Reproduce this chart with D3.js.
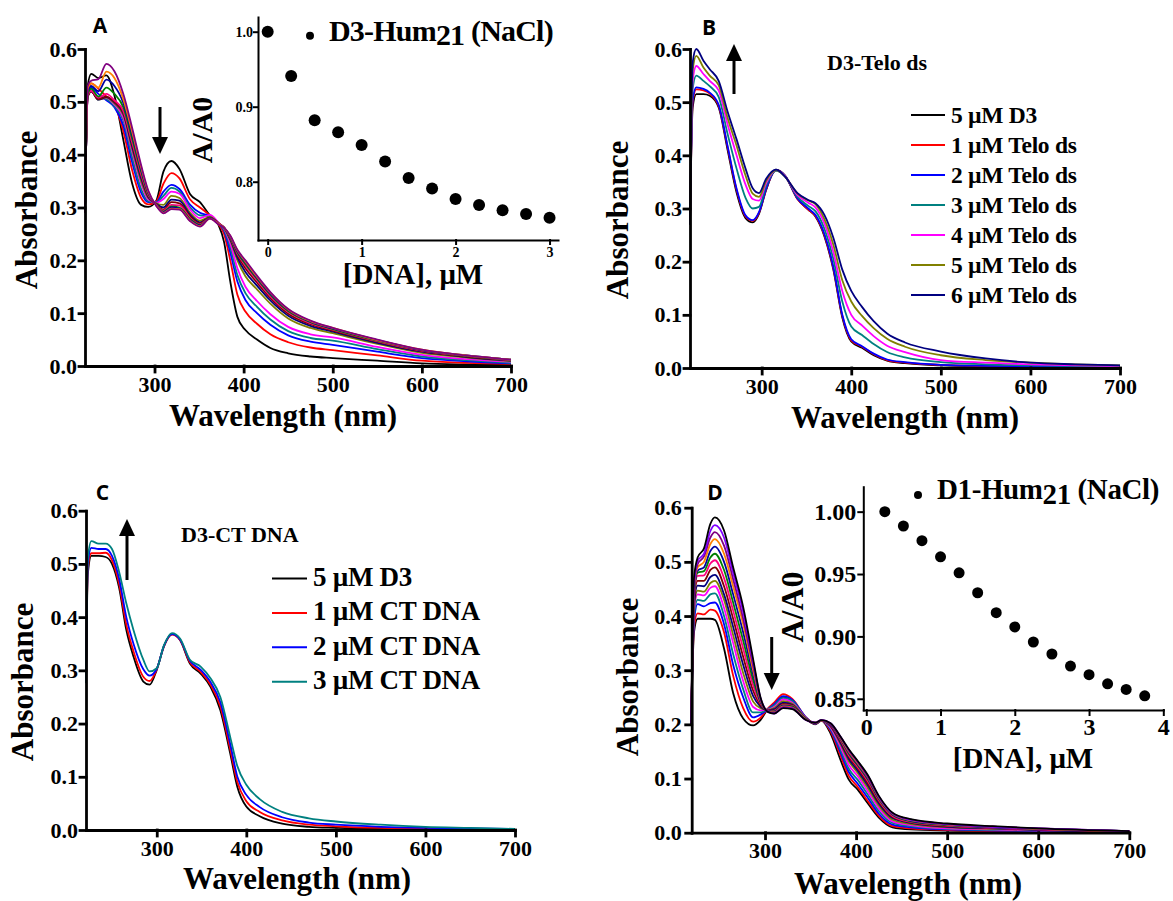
<!DOCTYPE html>
<html>
<head>
<meta charset="utf-8">
<script src="https://cdnjs.cloudflare.com/ajax/libs/d3/7.8.5/d3.min.js"></script>
<style>
    body { margin: 0; background: #fff; }
    svg text { font-family: "Liberation Serif", "Times New Roman", serif; font-weight: bold; fill: #000; }
    .axis path, .axis line { stroke: #000; stroke-width: 2.8px; stroke-linecap: square; }
    .axis text { font-family: "Liberation Serif", "Times New Roman", serif; font-weight: bold; font-size: 22px; }
    .inset path, .inset line { stroke: #000; stroke-width: 2px; stroke-linecap: square; }
    .inset text { font-family: "Liberation Serif", "Times New Roman", serif; font-weight: bold; }
    .letter { font-family: "Open Sans", "Liberation Sans", sans-serif !important; font-size: 21px; }
</style>
</head>
<body>
<div id="chart"></div>
<script>

// ---------- shared axis ticks ----------
var absTicks = [0, 0.1, 0.2, 0.3, 0.4, 0.5, 0.6];
var waveTicks = [300, 400, 500, 600, 700];

// ---------- Panel A: D3 + Hum21 (NaCl) ----------
var waveA = [222, 225, 229, 237, 246, 255, 265, 275, 285, 293, 302, 310, 319, 328, 340, 351, 362, 372, 378, 385, 393, 402, 415, 430, 450, 475, 500, 550, 600, 650, 700];
var absA = [
    [0.29, 0.53, 0.553, 0.545, 0.55, 0.512, 0.428, 0.345, 0.305, 0.301, 0.313, 0.368, 0.388, 0.373, 0.325, 0.31, 0.285, 0.266, 0.235, 0.16, 0.093, 0.068, 0.05, 0.034, 0.024, 0.018, 0.015, 0.01, 0.005, 0.003, 0.002],
    [0.29, 0.52, 0.535, 0.525, 0.51, 0.495, 0.445, 0.37, 0.318, 0.306, 0.311, 0.345, 0.365, 0.355, 0.315, 0.3, 0.285, 0.268, 0.25, 0.2, 0.135, 0.103, 0.08, 0.06, 0.045, 0.035, 0.03, 0.02, 0.01, 0.006, 0.004],
    [0.29, 0.515, 0.527, 0.515, 0.503, 0.49, 0.455, 0.385, 0.328, 0.31, 0.31, 0.33, 0.343, 0.335, 0.305, 0.29, 0.284, 0.27, 0.256, 0.215, 0.16, 0.125, 0.1, 0.078, 0.058, 0.046, 0.04, 0.027, 0.015, 0.009, 0.005],
    [0.29, 0.512, 0.522, 0.508, 0.505, 0.492, 0.465, 0.395, 0.335, 0.312, 0.309, 0.322, 0.337, 0.33, 0.3, 0.285, 0.283, 0.27, 0.258, 0.225, 0.172, 0.138, 0.112, 0.088, 0.066, 0.053, 0.048, 0.032, 0.018, 0.011, 0.006],
    [0.29, 0.51, 0.52, 0.505, 0.507, 0.495, 0.47, 0.405, 0.345, 0.315, 0.309, 0.316, 0.33, 0.326, 0.296, 0.28, 0.286, 0.271, 0.26, 0.232, 0.185, 0.15, 0.123, 0.098, 0.074, 0.06, 0.054, 0.036, 0.021, 0.013, 0.008],
    [0.29, 0.51, 0.52, 0.504, 0.508, 0.497, 0.475, 0.41, 0.35, 0.318, 0.308, 0.305, 0.322, 0.318, 0.29, 0.275, 0.282, 0.27, 0.261, 0.238, 0.2, 0.17, 0.145, 0.118, 0.09, 0.072, 0.062, 0.042, 0.025, 0.016, 0.009],
    [0.29, 0.51, 0.52, 0.504, 0.509, 0.499, 0.478, 0.415, 0.355, 0.32, 0.307, 0.3, 0.315, 0.313, 0.286, 0.272, 0.281, 0.27, 0.262, 0.24, 0.205, 0.178, 0.152, 0.124, 0.095, 0.076, 0.065, 0.044, 0.027, 0.017, 0.01],
    [0.29, 0.51, 0.52, 0.505, 0.51, 0.5, 0.48, 0.42, 0.36, 0.322, 0.306, 0.296, 0.31, 0.308, 0.283, 0.27, 0.281, 0.27, 0.262, 0.242, 0.21, 0.185, 0.158, 0.129, 0.099, 0.079, 0.067, 0.046, 0.028, 0.018, 0.011],
    [0.29, 0.512, 0.521, 0.508, 0.515, 0.503, 0.483, 0.423, 0.363, 0.324, 0.305, 0.294, 0.305, 0.304, 0.28, 0.268, 0.28, 0.27, 0.262, 0.243, 0.213, 0.19, 0.162, 0.132, 0.102, 0.081, 0.069, 0.047, 0.029, 0.019, 0.011],
    [0.29, 0.515, 0.525, 0.51, 0.527, 0.515, 0.49, 0.43, 0.368, 0.326, 0.305, 0.292, 0.302, 0.3, 0.278, 0.267, 0.28, 0.269, 0.262, 0.244, 0.215, 0.193, 0.165, 0.135, 0.104, 0.083, 0.07, 0.048, 0.03, 0.019, 0.012],
    [0.29, 0.52, 0.53, 0.52, 0.542, 0.53, 0.498, 0.437, 0.372, 0.328, 0.304, 0.291, 0.3, 0.298, 0.276, 0.266, 0.28, 0.269, 0.262, 0.245, 0.217, 0.196, 0.167, 0.137, 0.106, 0.084, 0.071, 0.049, 0.03, 0.02, 0.012],
    [0.29, 0.525, 0.535, 0.527, 0.557, 0.545, 0.505, 0.443, 0.376, 0.33, 0.304, 0.29, 0.298, 0.297, 0.275, 0.265, 0.279, 0.269, 0.262, 0.246, 0.219, 0.198, 0.169, 0.139, 0.107, 0.085, 0.072, 0.049, 0.031, 0.02, 0.012],
    [0.29, 0.53, 0.54, 0.543, 0.572, 0.558, 0.515, 0.45, 0.38, 0.332, 0.303, 0.289, 0.297, 0.296, 0.274, 0.264, 0.279, 0.268, 0.262, 0.247, 0.22, 0.2, 0.171, 0.14, 0.108, 0.086, 0.072, 0.05, 0.031, 0.02, 0.012]
];
var colorsA = ["#000000", "#ff0000", "#0000ff", "#008080", "#ff00ff", "#808000", "#000080", "#800000", "#ff0080", "#008000", "#0000a0", "#ff8000", "#800080"];

// inset A: relative absorbance vs DNA
var concA = [0, 0.25, 0.5, 0.75, 1, 1.25, 1.5, 1.75, 2, 2.25, 2.5, 2.75, 3];
var ratioA = [1.0, 0.941, 0.882, 0.866, 0.849, 0.827, 0.805, 0.791, 0.777, 0.769, 0.762, 0.757, 0.752];

// ---------- Panel B: D3 + Telo ds ----------
var waveB = [220, 223, 227, 235, 242, 252, 262, 272, 282, 290, 297, 305, 316, 326, 340, 352, 360, 370, 380, 390, 400, 412, 425, 440, 460, 500, 550, 600, 650, 700];
var absB = [
    [0.27, 0.49, 0.515, 0.515, 0.512, 0.49, 0.41, 0.33, 0.282, 0.274, 0.29, 0.335, 0.373, 0.362, 0.318, 0.298, 0.285, 0.248, 0.185, 0.095, 0.05, 0.038, 0.024, 0.014, 0.009, 0.005, 0.003, 0.002, 0.001, 0.001],
    [0.27, 0.5, 0.524, 0.522, 0.516, 0.493, 0.415, 0.335, 0.285, 0.277, 0.292, 0.336, 0.372, 0.362, 0.318, 0.298, 0.286, 0.25, 0.188, 0.098, 0.052, 0.04, 0.026, 0.015, 0.01, 0.006, 0.004, 0.003, 0.002, 0.002],
    [0.27, 0.505, 0.528, 0.525, 0.518, 0.495, 0.417, 0.337, 0.287, 0.278, 0.293, 0.337, 0.372, 0.362, 0.319, 0.3, 0.288, 0.252, 0.19, 0.1, 0.054, 0.041, 0.027, 0.016, 0.011, 0.006, 0.004, 0.003, 0.002, 0.002],
    [0.27, 0.525, 0.55, 0.54, 0.53, 0.51, 0.44, 0.375, 0.32, 0.3, 0.303, 0.343, 0.371, 0.361, 0.322, 0.305, 0.295, 0.262, 0.205, 0.125, 0.078, 0.062, 0.045, 0.03, 0.02, 0.011, 0.007, 0.005, 0.004, 0.003],
    [0.27, 0.54, 0.568, 0.553, 0.54, 0.522, 0.458, 0.4, 0.345, 0.318, 0.315, 0.348, 0.372, 0.361, 0.325, 0.311, 0.302, 0.272, 0.218, 0.145, 0.1, 0.08, 0.06, 0.042, 0.03, 0.015, 0.01, 0.007, 0.005, 0.004],
    [0.27, 0.56, 0.587, 0.565, 0.55, 0.532, 0.47, 0.418, 0.362, 0.328, 0.322, 0.352, 0.372, 0.36, 0.328, 0.315, 0.308, 0.28, 0.232, 0.165, 0.125, 0.098, 0.075, 0.055, 0.04, 0.024, 0.015, 0.01, 0.007, 0.005],
    [0.27, 0.575, 0.6, 0.578, 0.562, 0.54, 0.482, 0.43, 0.375, 0.338, 0.329, 0.356, 0.373, 0.36, 0.329, 0.316, 0.31, 0.288, 0.245, 0.185, 0.145, 0.115, 0.088, 0.065, 0.048, 0.031, 0.018, 0.01, 0.007, 0.005]
];
var colorsB = ["#000000", "#ff0000", "#0000ff", "#008080", "#ff00ff", "#808000", "#000080"];
var legendB = ["5 µM D3", "1 µM Telo ds", "2 µM Telo ds", "3 µM Telo ds", "4 µM Telo ds", "5 µM Telo ds", "6 µM Telo ds"];

// ---------- Panel C: D3 + CT DNA ----------
var waveC = [221, 223, 227, 235, 243, 250, 258, 266, 274, 285, 292, 300, 308, 317, 326, 337, 349, 360, 371, 382, 390, 400, 415, 440, 470, 500, 550, 600, 650, 700];
var absC = [
    [0.276, 0.48, 0.515, 0.515, 0.513, 0.5, 0.455, 0.376, 0.326, 0.279, 0.273, 0.301, 0.345, 0.368, 0.357, 0.313, 0.294, 0.269, 0.225, 0.144, 0.081, 0.044, 0.026, 0.012, 0.006, 0.004, 0.002, 0.001, 0.001, 0.001],
    [0.276, 0.49, 0.52, 0.52, 0.521, 0.507, 0.462, 0.386, 0.336, 0.288, 0.28, 0.302, 0.345, 0.367, 0.357, 0.315, 0.297, 0.273, 0.232, 0.152, 0.09, 0.054, 0.034, 0.018, 0.01, 0.007, 0.004, 0.003, 0.002, 0.001],
    [0.276, 0.5, 0.53, 0.528, 0.528, 0.515, 0.472, 0.4, 0.35, 0.302, 0.29, 0.303, 0.346, 0.368, 0.358, 0.318, 0.301, 0.278, 0.24, 0.162, 0.1, 0.066, 0.043, 0.024, 0.014, 0.01, 0.006, 0.004, 0.003, 0.002],
    [0.276, 0.51, 0.543, 0.538, 0.538, 0.528, 0.485, 0.426, 0.376, 0.32, 0.298, 0.304, 0.347, 0.37, 0.36, 0.32, 0.307, 0.285, 0.25, 0.175, 0.12, 0.085, 0.058, 0.034, 0.022, 0.016, 0.01, 0.006, 0.004, 0.002]
];
var colorsC = ["#000000", "#ff0000", "#0000ff", "#008080"];
var legendC = ["5 µM D3", "1 µM CT DNA", "2 µM CT DNA", "3 µM CT DNA"];

// ---------- Panel D: D1 + Hum21 (NaCl) ----------
var waveD = [219, 222, 226, 233, 240, 245, 255, 265, 276, 287, 295, 303, 310, 320, 330, 345, 355, 362, 372, 383, 392, 402, 413, 425, 440, 460, 500, 550, 600, 700];
var absD = [
    [0.2, 0.37, 0.395, 0.395, 0.395, 0.393, 0.34, 0.258, 0.211, 0.198, 0.208, 0.228, 0.238, 0.25, 0.243, 0.21, 0.2, 0.207, 0.183, 0.134, 0.098, 0.079, 0.054, 0.028, 0.01, 0.006, 0.004, 0.003, 0.002, 0.001],
    [0.2, 0.38, 0.405, 0.403, 0.412, 0.41, 0.37, 0.29, 0.23, 0.205, 0.212, 0.229, 0.24, 0.256, 0.247, 0.213, 0.201, 0.207, 0.187, 0.142, 0.105, 0.084, 0.058, 0.031, 0.012, 0.008, 0.005, 0.003, 0.002, 0.001],
    [0.2, 0.39, 0.422, 0.418, 0.424, 0.425, 0.385, 0.31, 0.25, 0.213, 0.218, 0.228, 0.237, 0.252, 0.245, 0.213, 0.201, 0.207, 0.19, 0.148, 0.112, 0.09, 0.064, 0.035, 0.015, 0.01, 0.006, 0.004, 0.003, 0.001],
    [0.2, 0.4, 0.43, 0.428, 0.44, 0.442, 0.4, 0.33, 0.265, 0.222, 0.222, 0.228, 0.235, 0.249, 0.243, 0.212, 0.202, 0.207, 0.192, 0.153, 0.118, 0.097, 0.07, 0.04, 0.018, 0.012, 0.007, 0.005, 0.004, 0.002],
    [0.2, 0.41, 0.44, 0.438, 0.452, 0.455, 0.415, 0.35, 0.28, 0.232, 0.226, 0.227, 0.232, 0.246, 0.24, 0.212, 0.202, 0.207, 0.194, 0.158, 0.125, 0.104, 0.076, 0.045, 0.021, 0.014, 0.008, 0.006, 0.004, 0.002],
    [0.2, 0.415, 0.447, 0.445, 0.461, 0.465, 0.43, 0.365, 0.295, 0.242, 0.23, 0.227, 0.23, 0.243, 0.238, 0.211, 0.202, 0.207, 0.196, 0.163, 0.132, 0.11, 0.082, 0.05, 0.024, 0.016, 0.01, 0.007, 0.005, 0.002],
    [0.2, 0.42, 0.456, 0.455, 0.472, 0.476, 0.44, 0.38, 0.31, 0.252, 0.233, 0.226, 0.228, 0.24, 0.236, 0.211, 0.202, 0.207, 0.197, 0.166, 0.136, 0.114, 0.087, 0.054, 0.027, 0.018, 0.011, 0.008, 0.005, 0.002],
    [0.2, 0.43, 0.465, 0.465, 0.485, 0.49, 0.455, 0.395, 0.325, 0.262, 0.236, 0.226, 0.226, 0.238, 0.235, 0.21, 0.202, 0.207, 0.198, 0.169, 0.14, 0.118, 0.091, 0.057, 0.029, 0.019, 0.012, 0.009, 0.006, 0.002],
    [0.2, 0.435, 0.474, 0.475, 0.497, 0.503, 0.47, 0.41, 0.34, 0.272, 0.239, 0.226, 0.225, 0.236, 0.234, 0.21, 0.202, 0.207, 0.199, 0.171, 0.143, 0.121, 0.095, 0.06, 0.031, 0.02, 0.013, 0.009, 0.006, 0.003],
    [0.2, 0.44, 0.48, 0.483, 0.508, 0.515, 0.485, 0.425, 0.355, 0.282, 0.241, 0.225, 0.224, 0.235, 0.233, 0.21, 0.202, 0.207, 0.2, 0.173, 0.146, 0.124, 0.098, 0.062, 0.033, 0.021, 0.014, 0.01, 0.007, 0.003],
    [0.2, 0.445, 0.484, 0.49, 0.52, 0.528, 0.5, 0.44, 0.37, 0.292, 0.243, 0.225, 0.223, 0.234, 0.232, 0.209, 0.203, 0.207, 0.2, 0.174, 0.148, 0.126, 0.1, 0.064, 0.034, 0.022, 0.015, 0.01, 0.007, 0.003],
    [0.2, 0.45, 0.49, 0.5, 0.533, 0.542, 0.515, 0.455, 0.385, 0.3, 0.245, 0.224, 0.222, 0.233, 0.231, 0.209, 0.203, 0.207, 0.201, 0.175, 0.15, 0.128, 0.102, 0.065, 0.035, 0.023, 0.015, 0.011, 0.007, 0.003],
    [0.2, 0.455, 0.496, 0.51, 0.545, 0.555, 0.53, 0.468, 0.395, 0.308, 0.247, 0.224, 0.221, 0.232, 0.23, 0.208, 0.203, 0.208, 0.201, 0.176, 0.152, 0.13, 0.103, 0.066, 0.036, 0.024, 0.016, 0.011, 0.008, 0.003],
    [0.2, 0.46, 0.502, 0.515, 0.557, 0.568, 0.545, 0.48, 0.408, 0.315, 0.249, 0.223, 0.22, 0.231, 0.229, 0.208, 0.203, 0.208, 0.202, 0.177, 0.153, 0.131, 0.105, 0.067, 0.036, 0.024, 0.016, 0.011, 0.008, 0.003],
    [0.2, 0.47, 0.508, 0.525, 0.57, 0.582, 0.558, 0.49, 0.417, 0.32, 0.25, 0.223, 0.22, 0.23, 0.228, 0.208, 0.203, 0.208, 0.202, 0.177, 0.154, 0.132, 0.106, 0.068, 0.037, 0.025, 0.017, 0.012, 0.008, 0.003]
];
var colorsD = ["#000000", "#ff0000", "#0000ff", "#008080", "#ff00ff", "#808000", "#000080", "#800000", "#ff0080", "#008000", "#0000a0", "#ff8000", "#800080", "#8000ff", "#000000"];

// inset D
var concD = [0.25, 0.5, 0.75, 1, 1.25, 1.5, 1.75, 2, 2.25, 2.5, 2.75, 3, 3.25, 3.5, 3.75];
var ratioD = [1.0, 0.9885, 0.9767, 0.9638, 0.951, 0.935, 0.919, 0.9076, 0.8955, 0.8859, 0.8762, 0.8693, 0.862, 0.8575, 0.8524];


/*
 * Spectrum - one absorbance panel
 */
Spectrum = function(_svg, _cfg, _wave, _data, _colors) {
    this.svg = _svg;
    this.cfg = _cfg;
    this.wave = _wave;
    this.data = _data;
    this.colors = _colors;

    this.initVis();
}

Spectrum.prototype.initVis = function() {
    var vis = this;
    var c = vis.cfg;

    vis.g = vis.svg.append("g");

    vis.x = d3.scaleLinear().domain([c.xStart, 700]).range([c.left, c.right]);
    vis.y = d3.scaleLinear().domain([0, 0.6]).range([c.bottom, c.top]);

    vis.line = d3.line()
        .x(function(d, i) { return vis.x(vis.wave[i]); })
        .y(function(d) { return vis.y(d); })
        .curve(d3.curveMonotoneX);

    vis.g.selectAll(".trace")
        .data(vis.data)
        .enter().append("path")
        .attr("class", "trace")
        .attr("d", vis.line)
        .attr("fill", "none")
        .attr("stroke", function(d, i) { return vis.colors[i]; })
        .attr("stroke-width", 1.8);

    // Axes
    var yAxis = d3.axisLeft(vis.y)
        .tickValues(absTicks)
        .tickFormat(d3.format(".1f"))
        .tickSize(6).tickSizeOuter(0).tickPadding(c.yPad);
    var xAxis = d3.axisBottom(vis.x)
        .tickValues(waveTicks)
        .tickFormat(d3.format("d"))
        .tickSize(6).tickSizeOuter(0).tickPadding(4);

    vis.g.append("g").attr("class", "axis")
        .attr("transform", "translate(" + c.left + ",0)")
        .call(yAxis);
    vis.g.append("g").attr("class", "axis")
        .attr("transform", "translate(0," + c.bottom + ")")
        .call(xAxis);

    // Titles
    vis.g.append("text")
        .attr("transform", "translate(" + c.yTitleX + "," + c.yTitleY + ") rotate(-90)")
        .attr("text-anchor", "middle")
        .style("font-size", "31px")
        .text("Absorbance");
    vis.g.append("text")
        .attr("x", c.xTitleX).attr("y", c.xTitleY)
        .attr("text-anchor", "middle")
        .style("font-size", "31px")
        .text("Wavelength (nm)");
    vis.g.append("text")
        .attr("class", "letter")
        .attr("x", c.letterX).attr("y", c.letterY)
        .attr("text-anchor", "middle")
        .text(c.letter);

    drawArrow(vis.g, c.arrow.x, c.arrow.tail, c.arrow.tip);

    if (c.note) {
        vis.g.append("text")
            .attr("x", c.note.x).attr("y", c.note.y)
            .style("font-size", c.note.size + "px")
            .text(c.note.text);
    }
    if (c.legend) vis.drawLegend();
}

Spectrum.prototype.drawLegend = function() {
    var vis = this;
    var L = vis.cfg.legend;

    var rows = vis.g.selectAll(".legend-row")
        .data(L.labels)
        .enter().append("g")
        .attr("class", "legend-row")
        .attr("transform", function(d, i) { return "translate(0," + (L.y0 + i * L.step) + ")"; });

    rows.append("line")
        .attr("x1", L.x1).attr("x2", L.x2)
        .attr("stroke", function(d, i) { return vis.colors[i]; })
        .attr("stroke-width", 2);
    rows.append("text")
        .attr("x", L.tx).attr("y", L.dy)
        .style("font-size", L.size + "px")
        .style("letter-spacing", "-0.3px")
        .text(function(d) { return d; });
}


/*
 * Titration - inset with A/A0 vs [DNA]
 */
Titration = function(_svg, _cfg, _conc, _ratio) {
    this.svg = _svg;
    this.cfg = _cfg;
    this.conc = _conc;
    this.ratio = _ratio;

    this.initVis();
}

Titration.prototype.initVis = function() {
    var vis = this;
    var c = vis.cfg;

    vis.g = vis.svg.append("g").attr("class", "inset");

    vis.x = d3.scaleLinear().domain(c.xDomain).range([c.left, c.right]);
    vis.y = d3.scaleLinear().domain(c.yDomain).range([c.bottom, c.top]);

    var yAxis = d3.axisLeft(vis.y).tickValues(c.yTicks).tickFormat(d3.format(c.yFormat))
        .tickSize(c.tickSize).tickSizeOuter(0).tickPadding(c.yPad);
    var xAxis = d3.axisBottom(vis.x).tickValues(c.xTicks).tickFormat(d3.format("d"))
        .tickSize(c.tickSize).tickSizeOuter(0).tickPadding(c.xPad);

    vis.g.append("g").attr("transform", "translate(" + c.left + ",0)").call(yAxis)
        .selectAll("text").style("font-size", c.tickFont + "px");
    vis.g.append("g").attr("transform", "translate(0," + c.bottom + ")").call(xAxis)
        .selectAll("text").style("font-size", c.tickFont + "px");

    vis.g.selectAll(".dot")
        .data(vis.conc)
        .enter().append("circle")
        .attr("class", "dot")
        .attr("cx", function(d) { return vis.x(d); })
        .attr("cy", function(d, i) { return vis.y(vis.ratio[i]); })
        .attr("r", c.r)
        .attr("fill", "#000");

    // legend symbol + title
    vis.g.append("circle").attr("cx", c.dotX).attr("cy", c.dotY).attr("r", c.dotR).attr("fill", "#000");
    var t = vis.g.append("text")
        .attr("x", c.titleX).attr("y", c.titleY)
        .style("font-size", c.titleSize + "px")
        .style("letter-spacing", c.titleSpacing + "px");
    t.append("tspan").text(c.title[0]);
    t.append("tspan").attr("dy", 4.5).text(c.title[1]);
    t.append("tspan").attr("dy", -4.5).text(c.title[2]);

    vis.g.append("text")
        .attr("transform", "translate(" + c.yLabelX + "," + c.yLabelY + ") rotate(-90)")
        .attr("text-anchor", "middle")
        .style("font-size", c.yLabelSize + "px")
        .text("A/A0");
    vis.g.append("text")
        .attr("x", c.xLabelX).attr("y", c.xLabelY)
        .attr("text-anchor", "middle")
        .style("font-size", "29px")
        .text("[DNA], μM");
}


function drawArrow(g, x, yTail, yTip) {
    var dir = yTip > yTail ? 1 : -1;
    var headLen = 17, half = 8;
    g.append("line")
        .attr("x1", x).attr("x2", x)
        .attr("y1", yTail).attr("y2", yTip - dir * (headLen - 2))
        .attr("stroke", "#000").attr("stroke-width", 3);
    g.append("path")
        .attr("d", "M" + (x - half) + "," + (yTip - dir * headLen) + "L" + x + "," + yTip + "L" + (x + half) + "," + (yTip - dir * headLen) + "Z")
        .attr("fill", "#000");
}


// SVG drawing area
var svg = d3.select("#chart").append("svg")
    .attr("width", 1173)
    .attr("height", 901);

new Spectrum(svg, {
    left: 85, right: 511, top: 49, bottom: 366, xStart: 222, yPad: 2,
    letter: "A", letterX: 100, letterY: 33,
    yTitleX: 37, yTitleY: 210, xTitleX: 283, xTitleY: 426,
    arrow: {x: 160, tail: 107, tip: 154}
}, waveA, absA, colorsA);

new Titration(svg, {
    left: 258, right: 558, top: 17, bottom: 240,
    xDomain: [-0.103, 3.09], yDomain: [0.7223, 1.0196],
    xTicks: [0, 1, 2, 3], yTicks: [0.8, 0.9, 1.0], yFormat: ".1f",
    tickSize: 4, tickFont: 14, xPad: 3, yPad: 1, r: 6,
    title: ["D3-Hum", "21", " (NaCl)"], titleX: 329, titleY: 40.7, titleSize: 30, titleSpacing: -0.8,
    dotX: 310, dotY: 35.7, dotR: 4,
    yLabelX: 212, yLabelY: 130, yLabelSize: 30,
    xLabelX: 413, xLabelY: 284
}, concA, ratioA);

new Spectrum(svg, {
    left: 690, right: 1120, top: 49, bottom: 368, xStart: 220, yPad: 2,
    letter: "B", letterX: 709, letterY: 35,
    yTitleX: 628, yTitleY: 220, xTitleX: 905, xTitleY: 428,
    arrow: {x: 734, tail: 94, tip: 44},
    note: {text: "D3-Telo ds", x: 827, y: 70, size: 22},
    legend: {labels: legendB, x1: 911, x2: 945, tx: 951, y0: 115, step: 30, size: 23.5, dy: 8}
}, waveB, absB, colorsB);

new Spectrum(svg, {
    left: 86, right: 515, top: 510.7, bottom: 830, xStart: 221, yPad: 2,
    letter: "C", letterX: 102.5, letterY: 500,
    yTitleX: 33, yTitleY: 682, xTitleX: 297, xTitleY: 889,
    arrow: {x: 127, tail: 580, tip: 519},
    note: {text: "D3-CT DNA", x: 181, y: 542, size: 22},
    legend: {labels: legendC, x1: 272, x2: 307, tx: 313, y0: 578.5, step: 34.4, size: 27, dy: 7.5}
}, waveC, absC, colorsC);

new Spectrum(svg, {
    left: 691.7, right: 1129.3, top: 507.7, bottom: 832.7, xStart: 219.5, yPad: 4,
    letter: "D", letterX: 715, letterY: 500,
    yTitleX: 638, yTitleY: 677, xTitleX: 908, xTitleY: 894,
    arrow: {x: 771.7, tail: 637, tip: 690}
}, waveD, absD, colorsD);

new Titration(svg, {
    left: 863.3, right: 1163.3, top: 486.7, bottom: 710,
    xDomain: [-0.04, 4], yDomain: [0.841, 1.02],
    xTicks: [0, 1, 2, 3, 4], yTicks: [0.85, 0.90, 0.95, 1.00], yFormat: ".2f",
    tickSize: 5, tickFont: 24, xPad: 3, yPad: 2, r: 5.5,
    title: ["D1-Hum", "21", " (NaCl)"], titleX: 937, titleY: 499, titleSize: 29, titleSpacing: -0.4,
    dotX: 918, dotY: 495, dotR: 4,
    yLabelX: 803, yLabelY: 607, yLabelSize: 32,
    xLabelX: 1023, xLabelY: 768
}, concD, ratioD);

</script>
</body>
</html>
